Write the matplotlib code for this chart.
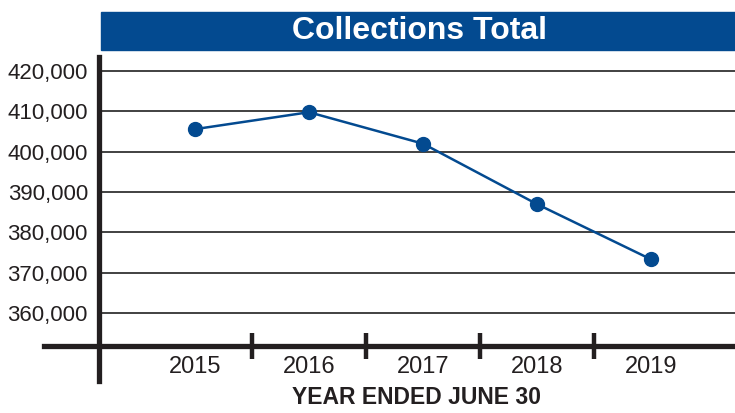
import matplotlib
matplotlib.use('Agg')
from matplotlib import pyplot as plt
from matplotlib.patches import Rectangle
from matplotlib.ticker import FuncFormatter

years = ['2015', '2016', '2017', '2018', '2019']
collections = [405600, 409800, 402000, 387000, 373300]
yticks = [360000, 370000, 380000, 390000, 400000, 410000, 420000]

blue = '#034a90'
dark = '#231f20'
plt.rcParams['font.family'] = ['Liberation Sans', 'DejaVu Sans']

fig = plt.figure(figsize=(7.35, 4.13), dpi=100)
ax = fig.add_axes([99/735, 1-346/413, 1-99/735, (346-57)/413])

xs = list(range(len(years)))
ax.plot(xs, collections, color=blue, lw=1.8, marker='o', ms=10, zorder=5)

ax.set_xlim(-0.842, 4.737)
ax.set_ylim(351800, 423500)
ax.set_yticks(yticks)
ax.yaxis.set_major_formatter(FuncFormatter(lambda v, p: f'{int(v):,}'))
for y in yticks:
    ax.axhline(y, color='#333333', lw=1.3, zorder=1)

ax.set_xticks(xs)
ax.set_xticklabels(years)
ax.tick_params(axis='both', length=0, colors='#231f20')
ax.tick_params(axis='x', pad=7, labelsize=17)
ax.tick_params(axis='y', pad=8, labelsize=16)
for s in ax.spines.values():
    s.set_visible(False)

# axis lines drawn in figure coords
fig.add_artist(plt.Line2D([44/735, 1], [1-346/413]*2, color=dark, lw=3.8))
fig.add_artist(plt.Line2D([99/735]*2, [1-57/413, 1-381/413], color=dark, lw=3.8))
for i in range(len(years)-1):
    ax.plot([i+0.5, i+0.5], [0.045, -0.045], transform=ax.get_xaxis_transform(),
            color=dark, lw=3.2, clip_on=False, solid_capstyle='butt')

ax.set_xlabel('YEAR ENDED JUNE 30', fontsize=16.5, fontweight='bold', color=dark, labelpad=6)

# title banner
fig.add_artist(Rectangle((101/735, 1-50/413), 634/735, 38/413, transform=fig.transFigure,
                         color=blue, zorder=0))
fig.text(420/735, 1-31/413, 'Collections Total', color='white', fontsize=23,
         fontweight='bold', ha='center', va='center')

fig.savefig('out.png', dpi=100)
